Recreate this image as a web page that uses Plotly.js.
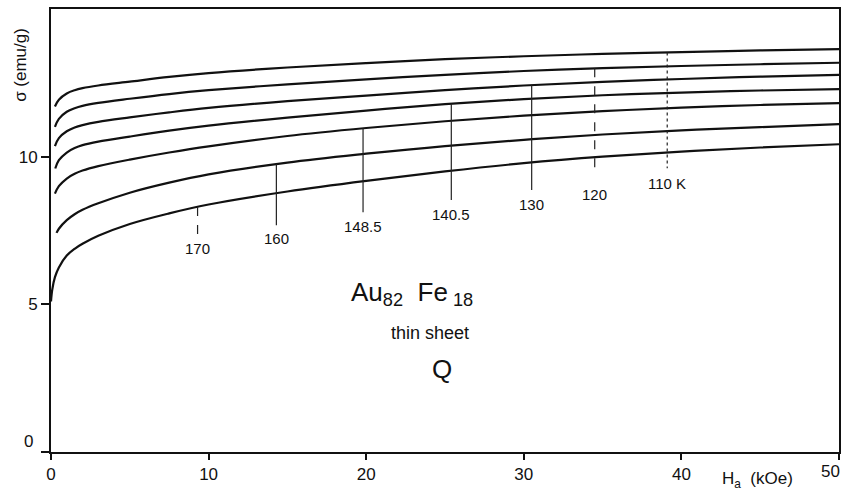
<!DOCTYPE html>
<html>
<head>
<meta charset="utf-8">
<script src="https://cdn.plot.ly/plotly-3.0.1.min.js"></script>
<style>html,body{margin:0;padding:0;background:#fff;}#chart{width:841px;height:491px;}</style>
</head>
<body>
<div id="chart"></div>
<script>
// Applied field grid (kOe) shared by all isotherms
const H = [0.5, 1, 1.5, 2, 3, 5, 7.5, 10, 15, 20, 25, 30, 35, 40, 45, 50];

// Temperatures (K) of the isotherms, top to bottom
const temps = ['110', '120', '130', '140.5', '148.5', '160', '170'];

// Low-field starting points of each isotherm
const startH = [[0.25], [0.25], [0.25], [0.27], [0.25], [0.35], [0, 0.08, 0.25]];
const startSigma = [[11.7], [11.01], [10.36], [9.6], [8.75], [7.42], [5.1, 5.5, 5.92]];

// Magnetization sigma (emu/g) on grid H
const sigma110 = [11.93, 12.14, 12.25, 12.32, 12.41, 12.54, 12.7, 12.83, 13.02, 13.17, 13.3, 13.4, 13.48, 13.54, 13.6, 13.64];
const sigma120 = [11.28, 11.52, 11.64, 11.72, 11.82, 11.96, 12.12, 12.25, 12.45, 12.62, 12.77, 12.9, 13.0, 13.07, 13.13, 13.18];
const sigma130 = [10.63, 10.86, 10.99, 11.07, 11.18, 11.33, 11.5, 11.65, 11.88, 12.07, 12.25, 12.41, 12.53, 12.63, 12.71, 12.77];
const sigma1405 = [9.88, 10.14, 10.29, 10.39, 10.51, 10.68, 10.88, 11.05, 11.32, 11.56, 11.78, 11.95, 12.08, 12.17, 12.24, 12.29];
const sigma1485 = [9.0, 9.26, 9.42, 9.53, 9.68, 9.9, 10.14, 10.35, 10.7, 10.97, 11.2, 11.39, 11.54, 11.66, 11.75, 11.81];
const sigma160 = [7.56, 7.85, 8.05, 8.2, 8.42, 8.78, 9.12, 9.4, 9.8, 10.1, 10.36, 10.57, 10.75, 10.89, 11.0, 11.1];
const sigma170 = [6.25, 6.65, 6.88, 7.05, 7.32, 7.72, 8.08, 8.38, 8.82, 9.18, 9.5, 9.78, 10.0, 10.17, 10.31, 10.42];
const sigmaSeries = [sigma110, sigma120, sigma130, sigma1405, sigma1485, sigma160, sigma170];

// Temperature marker lines: field position, lower end, label height, label text
const markerH = [39.1, 34.5, 30.5, 25.4, 19.8, 14.3, 9.3];
const markerBottom = [9.61, 9.54, 8.87, 8.53, 8.12, 7.68, 7.34];
const markerLabelSigma = [9.1, 8.73, 8.39, 8.05, 7.65, 7.24, 6.9];
const markerLabels = ['110 K', '120', '130', '140.5', '148.5', '160', '170'];
const markerDash = ['dot', 'dash', 'solid', 'solid', 'solid', 'solid', 'dash'];

// Axis ticks
const xTicks = [0, 10, 20, 30, 40, 50];
const xTickText = ['0', '10', '20', '30', '40', ''];
const yTicks = [0, 5, 10];
const yTickText = ['', '5', '10'];

function interp(xs, ys, x) {
  for (let i = 0; i < xs.length - 1; i++) {
    if (x >= xs[i] && x <= xs[i + 1]) {
      const t = (x - xs[i]) / (xs[i + 1] - xs[i]);
      return ys[i] + t * (ys[i + 1] - ys[i]);
    }
  }
  return ys[ys.length - 1];
}

const traces = [];
const curveX = [], curveY = [];
for (let i = 0; i < temps.length; i++) {
  const xs = startH[i].concat(H);
  const ys = startSigma[i].concat(sigmaSeries[i]);
  curveX.push(xs); curveY.push(ys);
  traces.push({
    x: xs, y: ys, type: 'scatter', mode: 'lines', name: temps[i] + ' K',
    line: {color: '#111', width: 2.2, shape: 'spline', smoothing: 1},
    hoverinfo: 'skip', showlegend: false
  });
}
for (let i = 0; i < markerH.length; i++) {
  const top = interp(curveX[i], curveY[i], markerH[i]);
  traces.push({
    x: [markerH[i], markerH[i]], y: [top, markerBottom[i]], type: 'scatter', mode: 'lines',
    line: {color: '#222', width: 1.2, dash: markerDash[i]}, hoverinfo: 'skip', showlegend: false
  });
}

const FONT = 'Liberation Sans, Arial, sans-serif';
const C = '#111';
function ann(o) {
  return Object.assign({showarrow: false, xanchor: 'center', yanchor: 'middle'}, o);
}
const annotations = [];
for (let i = 0; i < markerH.length; i++) {
  annotations.push(ann({x: markerH[i], y: markerLabelSigma[i], xref: 'x', yref: 'y', text: markerLabels[i],
    font: {family: FONT, size: 15, color: C}}));
}
annotations.push(ann({x: 22.9, y: 5.38, xref: 'x', yref: 'y', text: 'Au<sub>82</sub>  Fe<sub> 18</sub>',
  font: {family: FONT, size: 26, color: C}}));
annotations.push(ann({x: 24.05, y: 4.03, xref: 'x', yref: 'y', text: 'thin sheet',
  font: {family: FONT, size: 18, color: C}}));
annotations.push(ann({x: 24.8, y: 2.8, xref: 'x', yref: 'y', text: 'Q',
  font: {family: FONT, size: 26, color: C}}));
annotations.push(ann({x: -0.038, y: 0.874, xref: 'paper', yref: 'paper', text: 'σ (emu/g)', textangle: -90,
  font: {family: FONT, size: 17, color: C}}));
annotations.push(ann({x: 0.896, y: -0.064, xref: 'paper', yref: 'paper', text: 'H<sub>a</sub>  (kOe)',
  font: {family: FONT, size: 17, color: C}}));
annotations.push(ann({x: -0.029, y: 0.0226, xref: 'paper', yref: 'paper', text: '0',
  font: {family: FONT, size: 17, color: C}}));
annotations.push(ann({x: 0.989, y: -0.043, xref: 'paper', yref: 'paper', text: '50',
  font: {family: FONT, size: 17, color: C}}));

const layout = {
  width: 841, height: 491,
  margin: {l: 51, r: 2, t: 9, b: 39},
  paper_bgcolor: '#fff', plot_bgcolor: '#fff',
  showlegend: false,
  xaxis: {range: [0, 50], tickvals: xTicks, ticktext: xTickText, showgrid: false, zeroline: false,
    showline: true, mirror: true, linecolor: C, linewidth: 2, ticks: 'outside', ticklen: 6, tickwidth: 2,
    tickcolor: C, tickfont: {family: FONT, size: 17, color: C}},
  yaxis: {range: [0, 15], tickvals: yTicks, ticktext: yTickText, showgrid: false, zeroline: false,
    showline: true, mirror: true, linecolor: C, linewidth: 2, ticks: 'outside', ticklen: 8, tickwidth: 2,
    tickcolor: C, tickfont: {family: FONT, size: 17, color: C}},
  annotations: annotations
};

Plotly.newPlot('chart', traces, layout, {staticPlot: true, displayModeBar: false});
</script>
</body>
</html>
